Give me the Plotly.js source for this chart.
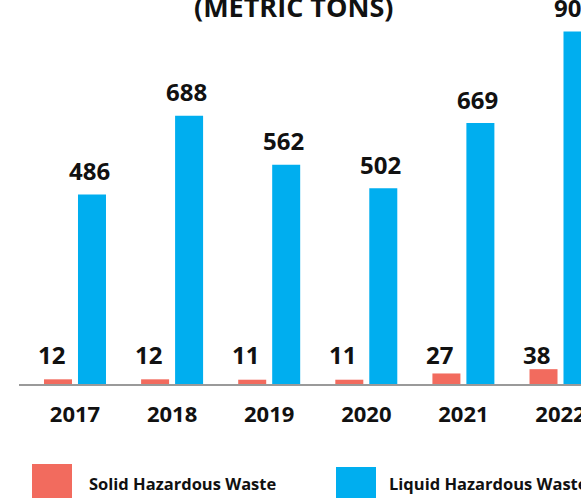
<!DOCTYPE html>
<html><head><meta charset="utf-8">
<script src="https://cdn.plot.ly/plotly-3.0.1.min.js"></script>
<style>html,body{margin:0;padding:0;overflow:hidden;background:#fff}</style>
</head><body><div id="chart" style="width:581px;height:498px"></div>
<script>
const years = ['2017','2018','2019','2020','2021','2022'];
const solidWaste = [12, 12, 11, 11, 27, 38];
const liquidWaste = [486, 688, 562, 502, 669, 904];
const seriesNames = ['Solid Hazardous Waste', 'Liquid Hazardous Waste'];
const titleText = '(METRIC TONS)';
const colors = ['#F26B5E', '#00AEEF'];

const W = 581, H = 498, L = 19, B = 114;
const plotW = W - L, plotH = H - B;
const catPx = 97.1, firstCenterPx = 75;
const x0 = -(firstCenterPx - L) / catPx;
const x1 = x0 + plotW / catPx;
const pxPerUnit = 0.39;
function pxX(p){ return (p - L) / plotW; }
function pxY(p){ return (plotH - p) / plotH; }
const FONT = '"Open Sans", "Noto Sans", sans-serif';

const traces = [
  {type:'bar', x: years, y: solidWaste, name: seriesNames[0], marker:{color: colors[0]}, showlegend:false, hoverinfo:'skip'},
  {type:'bar', x: years, y: liquidWaste, name: seriesNames[1], marker:{color: colors[1]}, showlegend:false, hoverinfo:'skip'}
];

const annotations = [];
years.forEach((yr, i) => {
  annotations.push({x: i, y: 0, xref:'x', yref:'y', text: String(solidWaste[i]), showarrow:false,
    xanchor:'center', yanchor:'middle', xshift:-24, yshift:30,
    font:{family:FONT, size:24, color:'#111', weight:700}});
  annotations.push({x: i, y: liquidWaste[i], xref:'x', yref:'y', text: String(liquidWaste[i]), showarrow:false,
    xanchor:'center', yanchor:'middle', xshift:14, yshift:24,
    font:{family:FONT, size:24, color:'#111', weight:700}});
});
annotations.push({x: pxX(293), y: pxY(6), xref:'paper', yref:'paper', text: titleText, showarrow:false,
  xanchor:'center', yanchor:'middle', font:{family:FONT, size:27, color:'#111', weight:700}});
annotations.push({x: pxX(87), y: pxY(483), xref:'paper', yref:'paper', text: seriesNames[0], showarrow:false,
  xanchor:'left', yanchor:'middle', font:{family:FONT, size:16.5, color:'#111', weight:700}});
annotations.push({x: pxX(387), y: pxY(483), xref:'paper', yref:'paper', text: seriesNames[1], showarrow:false,
  xanchor:'left', yanchor:'middle', font:{family:FONT, size:16.5, color:'#111', weight:700}});

const shapes = [
  {type:'rect', xref:'paper', yref:'paper', x0:pxX(32), x1:pxX(72), y0:pxY(464), y1:pxY(510), fillcolor:colors[0], line:{width:0}},
  {type:'rect', xref:'paper', yref:'paper', x0:pxX(336), x1:pxX(376), y0:pxY(467), y1:pxY(510), fillcolor:colors[1], line:{width:0}}
];

const layout = {
  width: W, height: H,
  margin:{l:L, r:0, t:0, b:B, pad:0},
  paper_bgcolor:'#fff', plot_bgcolor:'#fff',
  barmode:'group', bargap:0.30, bargroupgap:0.176,
  xaxis:{type:'category', range:[x0, x1], showline:true, linecolor:'#9a9a9a', linewidth:2,
    ticks:'', showgrid:false, zeroline:false, ticklabelstandoff:10,
    tickfont:{family:FONT, size:22, color:'#111', weight:700}},
  yaxis:{range:[0, plotH / pxPerUnit], visible:false, showgrid:false, zeroline:false},
  annotations: annotations,
  shapes: shapes,
  showlegend:false
};
Plotly.newPlot('chart', traces, layout, {staticPlot:true, displayModeBar:false});
</script></body></html>
